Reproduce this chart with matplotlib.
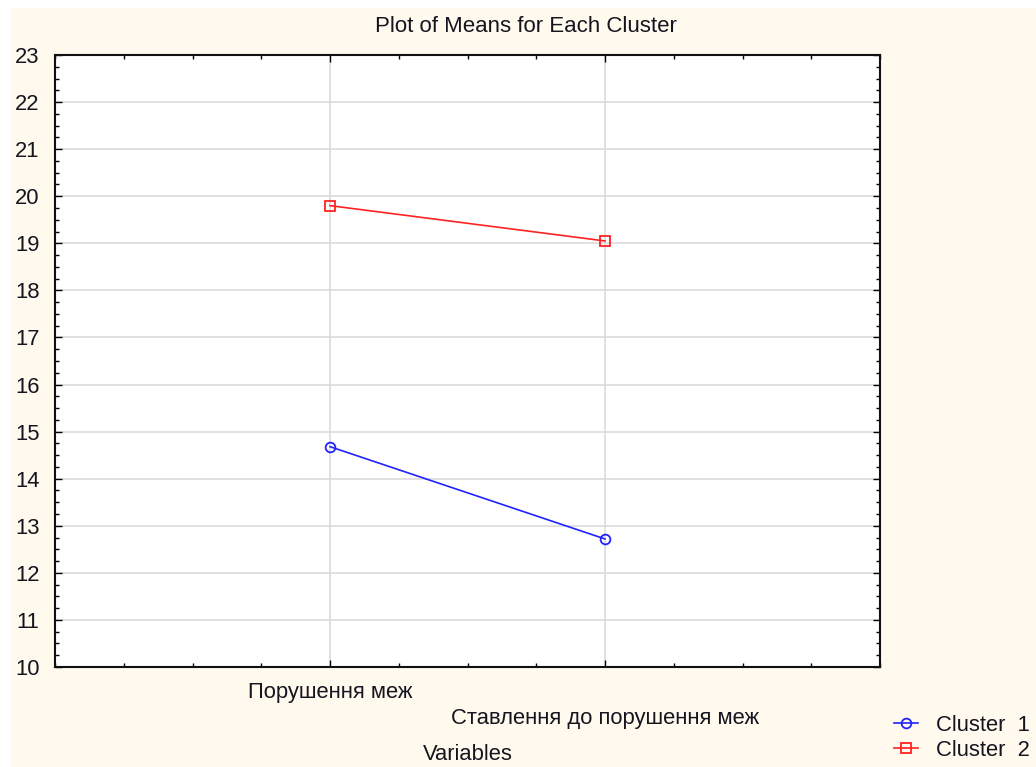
import matplotlib
matplotlib.use("Agg")
import matplotlib.pyplot as plt
from matplotlib.patches import Rectangle
from matplotlib.ticker import MultipleLocator

plt.rcParams['font.family'] = ['Liberation Sans', 'DejaVu Sans']

variables = ["Порушення меж", "Ставлення до порушення меж"]
cluster_labels = ["Cluster  1", "Cluster  2"]
cluster1_means = [14.68, 12.72]
cluster2_means = [19.80, 19.05]

W, H = 1036, 767
fig = plt.figure(figsize=(W / 100, H / 100), dpi=100)
fig.patch.set_facecolor("white")
# cream panel behind the plot, leaves a thin white margin top/left
fig.patches.append(Rectangle((11 / W, 0), 1 - 11 / W, 1 - 8 / H,
                             transform=fig.transFigure, facecolor="#FFF9EE",
                             edgecolor="none", zorder=-10))

ax = fig.add_axes([55 / W, 1 - 667 / H, 825 / W, 612 / H])
ax.set_facecolor("white")

xs = list(range(1, len(variables) + 1))
ax.plot(xs, cluster1_means, color="#2222ff", lw=1.2, marker="o", ms=7,
        mfc="none", mec="#2222ff", mew=1.3, label=cluster_labels[0], zorder=3)
ax.plot(xs, cluster2_means, color="#ff2222", lw=1.2, marker="s", ms=7,
        mfc="none", mec="#ff2222", mew=1.3, label=cluster_labels[1], zorder=3)

ax.set_xlim(0, 3)
ax.set_ylim(10, 23)
ax.set_xticks(xs)
ax.set_xticklabels([variables[0], "\n" + variables[1]])
for lbl in ax.get_xticklabels():
    lbl.set_linespacing(1.3)
ax.xaxis.set_minor_locator(MultipleLocator(0.25))
ax.yaxis.set_major_locator(MultipleLocator(1))
ax.yaxis.set_minor_locator(MultipleLocator(0.25))

txt = "#151520"
ax.tick_params(which="both", direction="in", top=True, right=True,
               colors="black", labelcolor=txt, labelsize=15.8)
ax.tick_params(which="major", length=5, width=1)
ax.tick_params(which="minor", length=3, width=1)
ax.tick_params(axis="y", pad=11)
ax.tick_params(axis="x", pad=11)

ax.grid(True, which="major", color="#d9d9d9", lw=1.1)
ax.set_axisbelow(True)
for s in ax.spines.values():
    s.set_linewidth(1.5)
    s.set_color("#111111")

ax.set_xlabel("Variables", fontsize=15.8, color=txt, labelpad=11)
fig.text(526 / W, 1 - 27 / H, "Plot of Means for Each Cluster", fontsize=16,
         color=txt, ha="center", va="center")

fig.legend(loc="lower left", bbox_to_anchor=(883 / W, -5 / H), frameon=False,
           fontsize=15.8, handlelength=1.1, handletextpad=0.8,
           labelspacing=0.2, borderpad=0, labelcolor=txt)

fig.savefig("out.png", dpi=100, facecolor=fig.get_facecolor())
